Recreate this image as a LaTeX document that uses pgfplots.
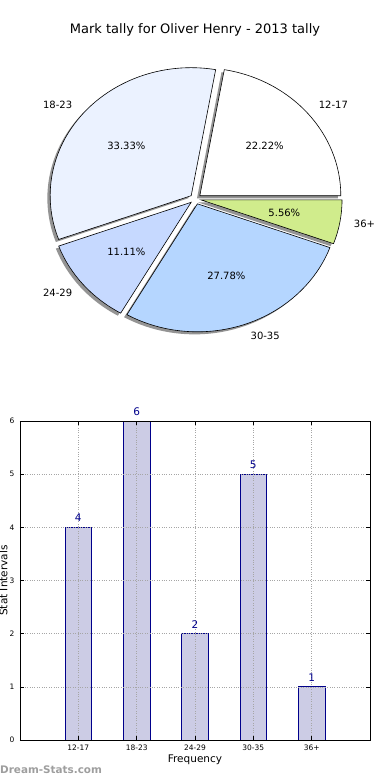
\documentclass[border=0pt]{standalone}
\usepackage{pgfplots}
\pgfplotsset{compat=1.18}
\usepackage{fontspec}
\setmainfont{DejaVu Sans}
\definecolor{cA}{HTML}{FFFFFF}
\definecolor{cB}{HTML}{EBF2FF}
\definecolor{cC}{HTML}{C6D9FF}
\definecolor{cD}{HTML}{B5D6FF}
\definecolor{cE}{HTML}{D0EC8C}
\definecolor{barfill}{HTML}{CCCCE5}
\definecolor{baredge}{HTML}{00008B}
\newcommand\pfont{\fontsize{10}{12}\selectfont}
\begin{document}
\begin{tikzpicture}
\path[use as bounding box] (0pt,0pt) rectangle (390pt,780pt);
\node[font=\fontsize{13}{15}\selectfont] at (195pt,750pt) {Mark tally for Oliver Henry - 2013 tally};

\begin{axis}[hide axis, scale only axis, width=366.6pt, height=332.8pt,
  xmin=-1.3, xmax=1.3, ymin=-1.3, ymax=1.3, anchor=south west, at={(12.2pt,414.6pt)}, clip=false]
\addplot[draw=none, forget plot] coordinates {(-1.3,-1.3) (1.3,1.3)};
% shadows
\gdef\cum{0}
\foreach \v/\col/\lab in {4/cA/12-17,6/cB/18-23,2/cC/24-29,5/cD/30-35,1/cE/36+}{
  \pgfmathsetmacro\sa{\cum/18*360}
  \pgfmathsetmacro\ea{(\cum+\v)/18*360}
  \pgfmathsetmacro\newcum{\cum+\v}
  \xdef\cum{\newcum}
  \pgfmathsetmacro\ma{(\sa+\ea)/2}
  \pgfmathsetmacro\ex{0.04*cos(\ma)-0.02}
  \pgfmathsetmacro\ey{0.04*sin(\ma)-0.02}
  \pgfmathsetmacro\px{\ex+cos(\sa)}
  \pgfmathsetmacro\py{\ey+sin(\sa)}
  \edef\temp{\noexpand\fill[black!42] (axis cs:\ex,\ey) -- (axis cs:\px,\py) arc[start angle=\sa, end angle=\ea, x radius=1, y radius=1] -- cycle;}
  \temp
}
% slices
\gdef\cum{0}
\foreach \v/\col/\lab in {4/cA/12-17,6/cB/18-23,2/cC/24-29,5/cD/30-35,1/cE/36+}{
  \pgfmathsetmacro\sa{\cum/18*360}
  \pgfmathsetmacro\ea{(\cum+\v)/18*360}
  \pgfmathsetmacro\newcum{\cum+\v}
  \xdef\cum{\newcum}
  \pgfmathsetmacro\ma{(\sa+\ea)/2}
  \pgfmathsetmacro\ex{0.04*cos(\ma)}
  \pgfmathsetmacro\ey{0.04*sin(\ma)}
  \pgfmathsetmacro\px{\ex+cos(\sa)}
  \pgfmathsetmacro\py{\ey+sin(\sa)}
  \pgfmathsetmacro\lx{\ex+1.1*cos(\ma)}
  \pgfmathsetmacro\ly{\ey+1.1*sin(\ma)}
  \pgfmathsetmacro\tx{\ex+0.6*cos(\ma)}
  \pgfmathsetmacro\ty{\ey+0.6*sin(\ma)}
  \pgfmathsetmacro\pct{round(\v*100/18*100)/100}
  \pgfmathtruncatemacro\pos{cos(\ma)>0}
  \ifnum\pos=1 \def\anc{west}\else\def\anc{east}\fi
  \edef\temp{\noexpand\draw[fill=\col, line width=0.6pt] (axis cs:\ex,\ey) -- (axis cs:\px,\py) arc[start angle=\sa, end angle=\ea, x radius=1, y radius=1] -- cycle;
    \noexpand\node[font=\noexpand\pfont, anchor=\anc, inner sep=0pt] at (axis cs:\lx,\ly) {\lab};
    \noexpand\node[font=\noexpand\pfont, inner sep=0pt] at (axis cs:\tx,\ty) {\noexpand\pgfmathprintnumber[fixed,fixed zerofill,precision=2,assume math mode=true]{\pct}\noexpand\%};}
  \temp
}
\end{axis}

\begin{axis}[at={(20pt,40pt)}, anchor=south west, scale only axis, width=350pt, height=319pt,
  xmin=-1, xmax=5, ymin=0, ymax=6,
  xtick={0,1,2,3,4}, xticklabels={12-17,18-23,24-29,30-35,36+},
  ytick={0,1,2,3,4,5,6},
  ybar, bar width=26.5pt,
  axis on top,
  grid=major, grid style={dotted, black!35, line width=0.6pt},
  tick align=inside, major tick length=4pt,
  tick style={black, line width=0.5pt},
  axis line style={line width=0.8pt},
  ticklabel style={font=\fontsize{7.5}{9}\selectfont},
  yticklabel style={xshift=-2pt},
  xticklabel style={yshift=-1pt},
  /pgf/number format/assume math mode=true,
  xlabel={Frequency}, ylabel={Stat Intervals},
  label style={font=\fontsize{10.5}{12}\selectfont},
  xlabel style={at={(axis description cs:0.5,0)}, anchor=center, yshift=-20pt},
  ylabel style={at={(axis description cs:-0.036,0.5)}, anchor=base},
  nodes near coords,
  nodes near coords style={font=\fontsize{10.5}{12}\selectfont, text=baredge, anchor=south, inner sep=0pt, yshift=5pt},
]
\addplot[fill=barfill, draw=baredge, line width=0.8pt] coordinates {(0,4) (1,6) (2,2) (3,5) (4,1)};
\end{axis}
\node[anchor=west, inner sep=0pt, text=black!38, font=\bfseries\fontsize{10.4}{12}\selectfont] at (0pt,10pt) {Dream-Stats.com};
\end{tikzpicture}
\end{document}
